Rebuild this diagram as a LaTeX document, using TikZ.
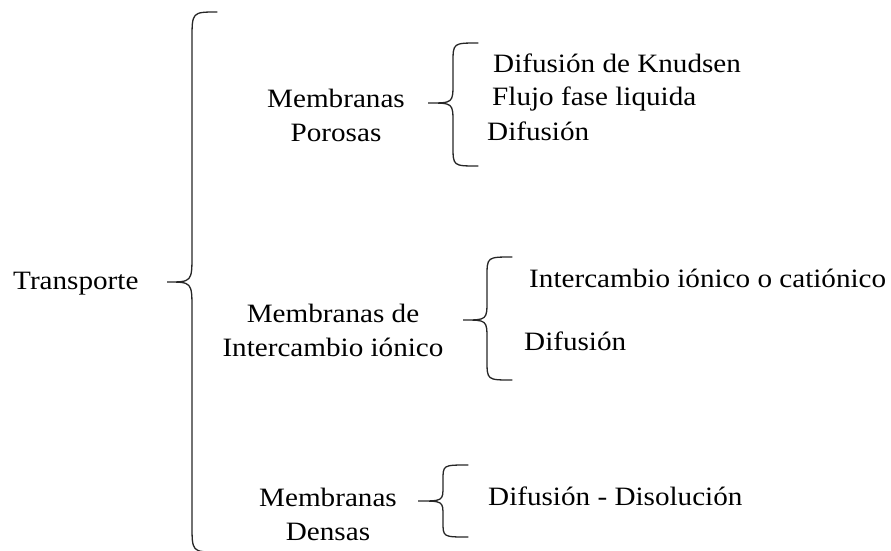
\documentclass[tikz,border=0pt]{standalone}
\usepackage{fontspec}
\setmainfont{Liberation Serif}
\usepackage{tikz}

\begin{document}
\begin{tikzpicture}[x=1pt,y=-1pt,
        lbl/.style={font=\fontsize{26.5}{34}\selectfont,inner sep=0pt,xscale=1.1,transform shape},
        llave/.style={line width=1.3pt,black!85,line cap=round}]
    \useasboundingbox (0,0) rectangle (891,550);
    \node[lbl,anchor=base west] (transporte) at (13,289) {Transporte};
    \node[lbl,anchor=base,align=center] (porosas) at (336,141) {Membranas\\Porosas};
    \node[lbl,anchor=base,align=center] (intercambio) at (333,356) {Membranas de\\Intercambio iónico};
    \node[lbl,anchor=base,align=center] (densas) at (328,540) {Membranas\\Densas};
    % items
    \node[lbl,anchor=base west] (knudsen) at (493,72) {Difusión de Knudsen};
    \node[lbl,anchor=base west] (flujo) at (492,105) {Flujo fase liquida};
    \node[lbl,anchor=base west] (difporosas) at (487,140) {Difusión};
    \node[lbl,anchor=base west] (cationico) at (529,287) {Intercambio iónico o catiónico};
    \node[lbl,anchor=base west] (difionico) at (524,350) {Difusión};
    \node[lbl,anchor=base west] (disolucion) at (488,505) {Difusión - Disolución};
    % llaves: extremo / arriba / vertical / punta / centro / abajo / radio
    \foreach \Xe/\Yt/\Xv/\Xp/\Ym/\Yb/\R in {217/12/192/167/282/552/28,
            478/43/453/428/103/166/20,
            512/257/487/463/320/380/20,
            468/465/443/418/501/537/15}
        \draw[llave] (\Xe,\Yt) .. controls (\Xv,\Yt) .. (\Xv,\Yt+\R) -- (\Xv,\Ym-\R)
            .. controls (\Xv,\Ym) .. (\Xp,\Ym) .. controls (\Xv,\Ym) .. (\Xv,\Ym+\R)
            -- (\Xv,\Yb-\R) .. controls (\Xv,\Yb) .. (\Xe,\Yb);
\end{tikzpicture}
\end{document}
